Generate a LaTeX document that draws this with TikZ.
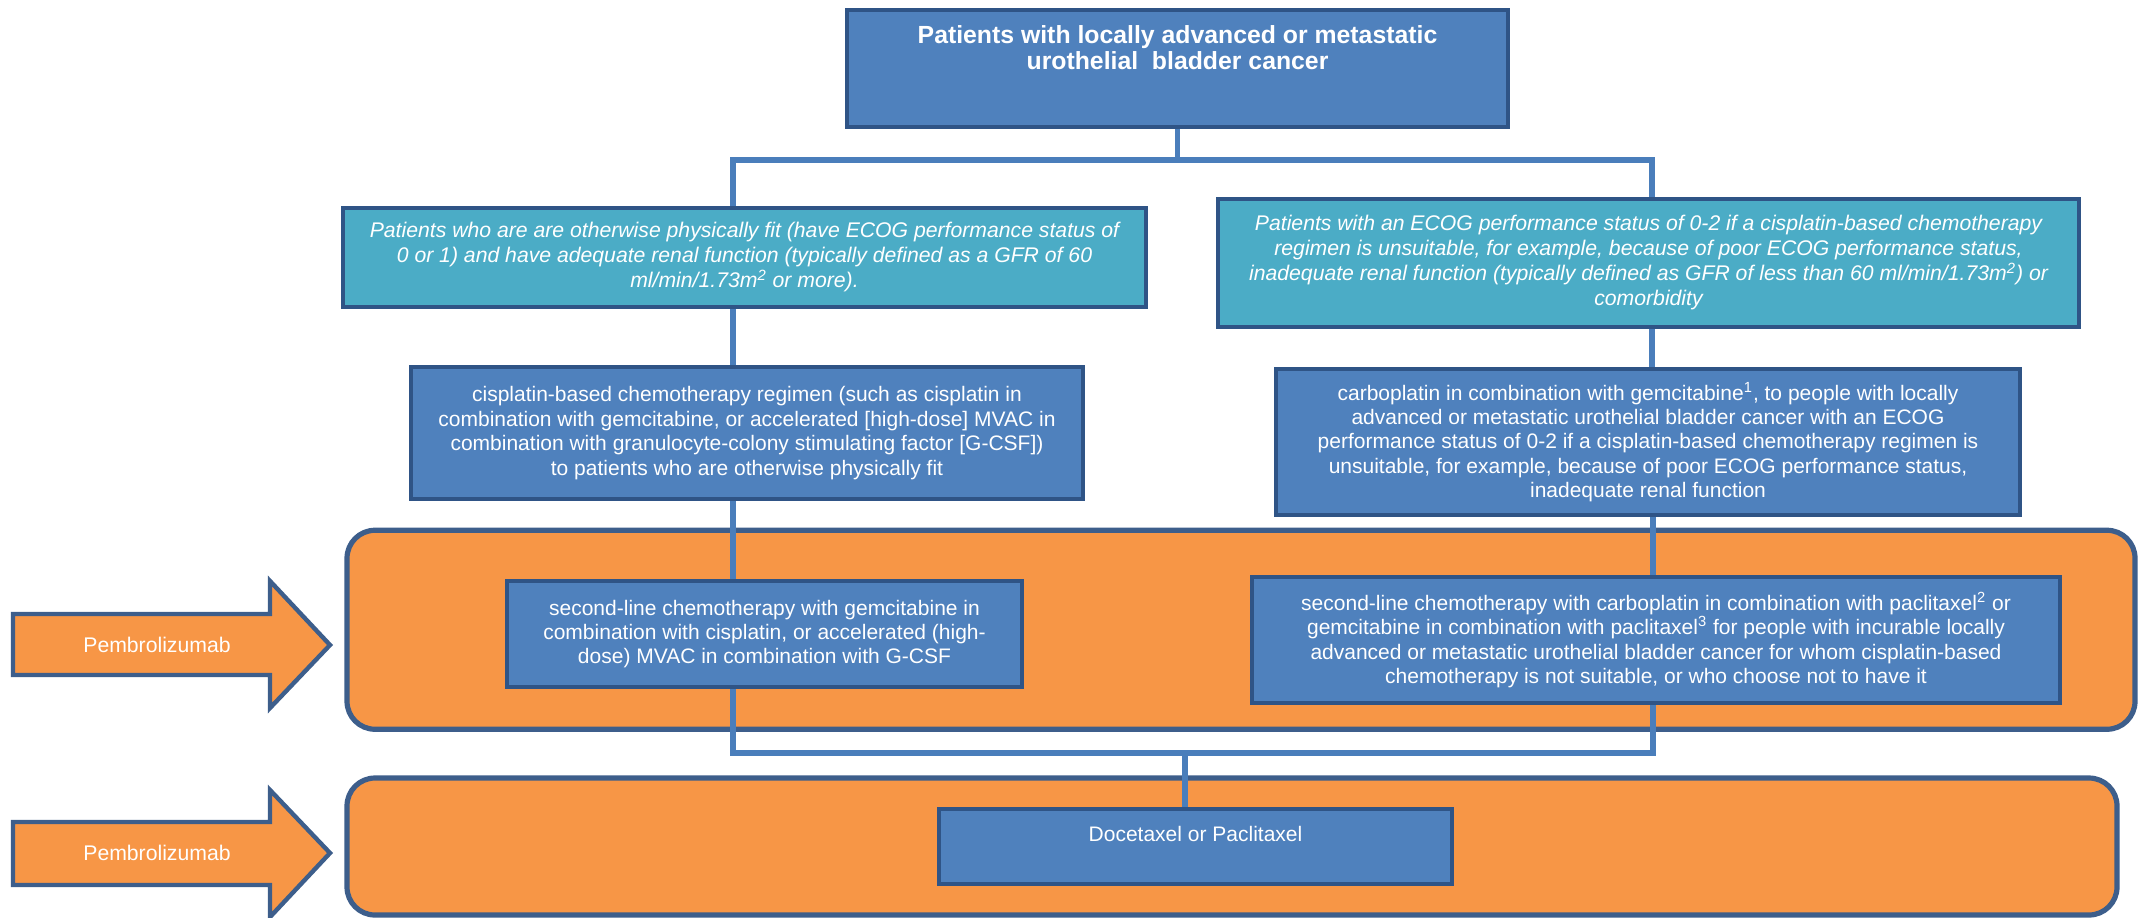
\documentclass[tikz,border=0pt]{standalone}
\usepackage{fontspec}
\setmainfont{Liberation Sans}

\definecolor{boxblue}{HTML}{4F81BD}
\definecolor{boxedge}{HTML}{2F5486}
\definecolor{fitcyan}{HTML}{4BACC6}
\definecolor{stageorange}{HTML}{F79646}
\definecolor{stageedge}{HTML}{3D5E8B}
\definecolor{linkblue}{HTML}{4A7EBB}

\tikzset{
  bluebox/.style={draw=boxedge, line width=1.8pt, fill=boxblue, text=white,
    align=center, inner sep=0pt, font=\fontsize{10.5}{12.2}\selectfont},
  cyanbox/.style={bluebox, fill=fitcyan, font=\fontsize{10.6}{12.5}\selectfont\itshape},
  stagebox/.style={draw=stageedge, line width=2.6pt, fill=stageorange,
    rounded corners=14pt, inner sep=0pt},
  link/.style={draw=linkblue, line width=2.7pt, line join=miter},
  pembroshape/.style={draw=stageedge, line width=2.2pt, fill=stageorange, line join=miter},
  pembrotext/.style={text=white, inner sep=0pt, font=\fontsize{10.6}{12}\selectfont},
}

\begin{document}
\begin{tikzpicture}[x=0.5pt,y=-0.5pt]
\useasboundingbox (0,0) rectangle (2145,917);

% treatment-line bands
\node[stagebox, minimum width=894pt, minimum height=99.5pt] (stage1) at (1241,629.75) {};
\node[stagebox, minimum width=885pt, minimum height=68.5pt] (stage2) at (1232,846.5) {};

% Pembrolizumab block arrows
\draw[pembroshape] (13,614) -- (270,614) -- (270,581) -- (330,645) -- (270,708) -- (270,675) -- (13,675) -- cycle;
\node[pembrotext] (pem1) at (157,645) {Pembrolizumab};
\draw[pembroshape] (13,822) -- (270,822) -- (270,790) -- (330,853) -- (270,917) -- (270,885) -- (13,885) -- cycle;
\node[pembrotext] (pem2) at (157,853) {Pembrolizumab};

% boxes
\node[bluebox, line width=2.2pt, minimum width=330.5pt, minimum height=58.5pt] (top) at (1177.5,68.5)
  {\parbox[c][58.5pt][t]{330pt}{\centering\fontsize{12.4}{13}\selectfont\bfseries\vspace*{8pt}%
   Patients with locally advanced or metastatic\\urothelial\ \ bladder cancer}};

\node[cyanbox, minimum width=401.5pt, minimum height=49.5pt] (cyanL) at (744.5,257.5)
  {Patients who are are otherwise physically fit (have ECOG performance status of\\
   0 or 1) and have adequate renal function (typically defined as a GFR of 60\\
   ml/min/1.73m\textsuperscript{2} or more).};

\node[cyanbox, minimum width=430.5pt, minimum height=64pt] (cyanR) at (1648.5,263)
  {Patients with an ECOG performance status of 0-2 if a cisplatin-based chemotherapy\\
   regimen is unsuitable, for example, because of poor ECOG performance status,\\
   inadequate renal function (typically defined as GFR of less than 60 ml/min/1.73m\textsuperscript{2}) or\\
   comorbidity};

\node[bluebox, minimum width=336pt, minimum height=66pt] (cis) at (747,433)
  {cisplatin-based chemotherapy regimen (such as cisplatin in\\
   combination with gemcitabine, or accelerated [high-dose] MVAC in\\
   combination with granulocyte-colony stimulating factor [G-CSF])\\
   to patients who are otherwise physically fit};

\node[bluebox, minimum width=372pt, minimum height=73pt] (carbo) at (1648,442)
  {carboplatin in combination with gemcitabine\textsuperscript{1}, to people with locally\\
   advanced or metastatic urothelial bladder cancer with an ECOG\\
   performance status of 0-2 if a cisplatin-based chemotherapy regimen is\\
   unsuitable, for example, because of poor ECOG performance status,\\
   inadequate renal function};

\node[bluebox, minimum width=257.5pt, minimum height=53pt] (secL) at (764.5,634)
  {second-line chemotherapy with gemcitabine in\\
   combination with cisplatin, or accelerated (high-\\
   dose) MVAC in combination with G-CSF};

\node[bluebox, minimum width=404pt, minimum height=63pt] (secR) at (1656,640)
  {second-line chemotherapy with carboplatin in combination with paclitaxel\textsuperscript{2} or\\
   gemcitabine in combination with paclitaxel\textsuperscript{3} for people with incurable locally\\
   advanced or metastatic urothelial bladder cancer for whom cisplatin-based\\
   chemotherapy is not suitable, or who choose not to have it};

\node[bluebox, minimum width=256.5pt, minimum height=37.5pt] (doc) at (1195.5,846.5)
  {\parbox[c][37.5pt][t]{256pt}{\centering\vspace*{8.5pt}Docetaxel or Paclitaxel}};

% connectors
\coordinate (jl) at (733,160);
\coordinate (jr) at (1652,160);
\coordinate (bl) at (733,753);
\coordinate (br) at (1653,753);
\coordinate (bm) at (1185,753);

\draw[link] (top.south) -- (top.south |- jl);
\draw[link] (jl |- cyanL.north) -- (jl) -- (jr) -- (jr |- cyanR.north);
\draw[link] (cyanL.south -| jl) -- (cis.north -| jl);
\draw[link] (cis.south -| jl) -- (secL.north -| jl);
\draw[link] (cyanR.south -| jr) -- (carbo.north -| jr);
\draw[link] (carbo.south -| br) -- (secR.north -| br);
\draw[link] (secL.south -| bl) -- (bl) -- (br) -- (secR.south -| br);
\draw[link] (bm) -- (bm |- doc.north);
\end{tikzpicture}
\end{document}
